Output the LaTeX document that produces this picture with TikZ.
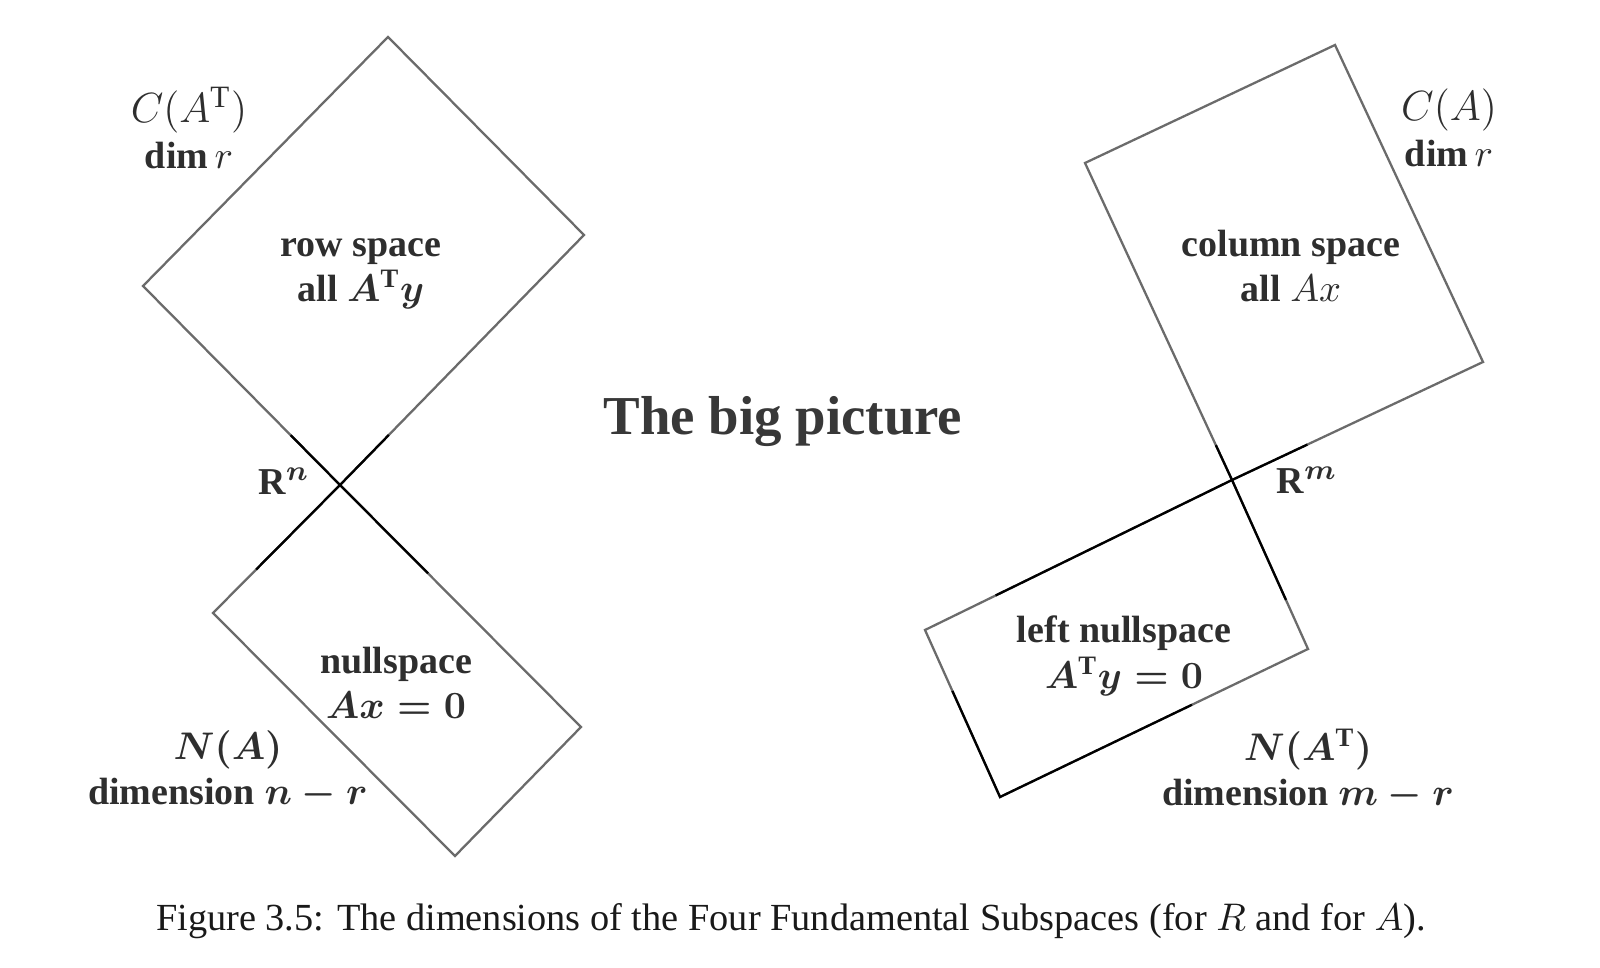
\documentclass[tikz,border=0pt]{standalone}
\usepackage{fontspec}
\setmainfont{Liberation Serif}
\usetikzlibrary{calc}
\tikzset{
  sideline/.style={draw=black!58, line width=0.65pt, line join=miter},
  nearline/.style={draw=black, line width=0.65pt},
  lbl/.style={font=\fontsize{10.8}{12.9}\selectfont\bfseries\boldmath, text=black!82, align=center, inner sep=0pt},
  thinlbl/.style={lbl, font=\fontsize{10.8}{12.9}\selectfont\bfseries\unboldmath},
}
\newcommand{\bigmath}[1]{{\fontsize{12.6}{12.9}\selectfont$#1$}}

\begin{document}
\begin{tikzpicture}[x=0.01cm,y=-0.01cm]
  \useasboundingbox (0,0) rectangle (1600,968);

  % 坐标点定义（左）
  \coordinate (O1) at (340,485);
  \coordinate (P1) at (584,235);
  \coordinate (Q1) at (388,37);
  \coordinate (S1) at (143,286);
  \coordinate (U1) at (581,727);
  \coordinate (V1) at (455,856);
  \coordinate (W1) at (213,613);

  % 坐标点定义（右）
  \coordinate (O2) at (1232,480);
  \coordinate (R2) at (1483,362);
  \coordinate (T2) at (1335,45);
  \coordinate (L2) at (1085,163);
  \coordinate (M2) at (925,630);
  \coordinate (B2) at (1000,797);
  \coordinate (N2) at (1308,649);

  % 矩形
  \draw[sideline] (O1) -- (P1) -- (Q1) -- (S1) -- cycle;
  \draw[sideline] (O1) -- (U1) -- (V1) -- (W1) -- cycle;
  \draw[sideline] (O2) -- (R2) -- (T2) -- (L2) -- cycle;
  \draw[sideline] (O2) -- (M2) -- (B2) -- (N2) -- cycle;

  % 原点附近的黑线
  \draw[nearline] ($(O1)!0.25!(S1)$) -- (O1) -- ($(O1)!0.66!(W1)$);
  \draw[nearline] ($(O1)!0.2!(P1)$) -- (O1) -- ($(O1)!0.365!(U1)$);
  \draw[nearline] ($(O2)!0.11!(L2)$) -- (O2) -- ($(O2)!0.77!(M2)$);
  \draw[nearline] ($(O2)!0.3!(R2)$) -- (O2) -- ($(O2)!0.71!(N2)$);
  \draw[nearline] ($(M2)!0.365!(B2)$) -- (B2) -- ($(B2)!0.623!(N2)$);

  % 标签（左）
  \node[thinlbl] (cat) at (189,128) {\bigmath{C(A^{\mathrm{T}})}\\ dim\,$r$};
  \node[lbl] (rowsp) at (361,274) {row space\\ all $A^{\mathrm{T}}y$};
  \node[lbl] (rn) at (284,481) {R$^{n}$};
  \node[lbl] (nullsp) at (396,683) {nullspace\\ $Ax=0$};
  \node[lbl] (na) at (228,770) {$N(A)$\\ dimension $n-r$};

  % 标签（右）
  \node[thinlbl] (ca) at (1449,128) {\bigmath{C(A)}\\ dim\,$r$};
  \node[thinlbl] (colsp) at (1291,266) {column space\\ all $Ax$};
  \node[lbl] (rm) at (1307,480) {R$^{m}$};
  \node[lbl] (lnull) at (1124,656) {left nullspace\\ $A^{\mathrm{T}}y=0$};
  \node[lbl] (nat) at (1308,770) {$N(A^{\mathrm{T}})$\\ dimension $m-r$};

  % 标题
  \node[font=\fontsize{15.6}{18}\selectfont\bfseries, text=black!78, inner sep=0pt] (title) at (783,422) {The big picture};
  \node[font=\fontsize{10.9}{12}\selectfont, text=black!90, inner sep=0pt] (caption) at (791,921)
    {Figure 3.5: The dimensions of the Four Fundamental Subspaces (for $R$ and for $A$).};
\end{tikzpicture}
\end{document}
